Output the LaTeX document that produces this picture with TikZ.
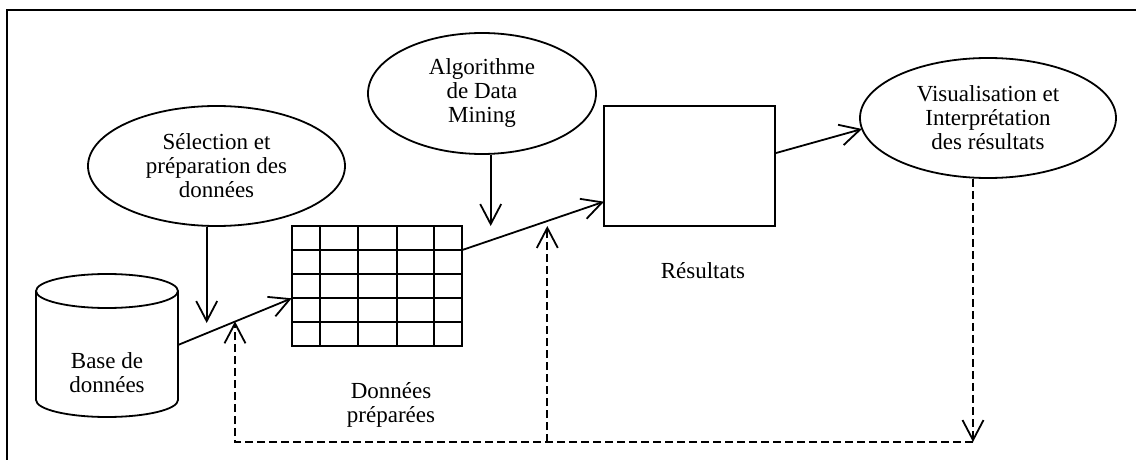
\documentclass[tikz,border=0pt]{standalone}
\usepackage{fontspec}
\setmainfont{Liberation Serif}
\usetikzlibrary{shapes.geometric,arrows.meta}
\begin{document}
\begin{tikzpicture}[x=1pt,y=-1pt,
  lw/.style={line width=1.8pt},
  ell/.style={draw, ellipse, lw, inner sep=0pt, align=center, font=\fontsize{23}{24}\selectfont},
  txt/.style={align=center, inner sep=0pt, font=\fontsize{23}{24}\selectfont},
  arr/.style={lw, -{Straight Barb[length=20pt,width=21pt]}},
  darr/.style={arr, dash pattern=on 8pt off 4pt},
]
\useasboundingbox (0,0) rectangle (1136,460);
\draw[line width=2pt] (7.3,460) -- (7.3,10) -- (1136,10);

% ellipses
\node[ell, minimum width=257pt, minimum height=120pt] (sel) at (216.5,166) {Sélection et\\préparation des\\données};
\node[ell, minimum width=228pt, minimum height=121pt] (algo) at (482,93.5) {Algorithme\\de Data\\Mining};
\node[ell, minimum width=256pt, minimum height=120pt] (vis) at (988,118) {Visualisation et\\Interprétation\\des résultats};

% database cylinder
\draw[lw, fill=white] (36,291) -- (36,400) arc[start angle=180, end angle=0, x radius=71, y radius=17] -- (178,291);
\draw[lw] (107,291) ellipse [x radius=71, y radius=17];
\node[txt] (db) at (107,373) {Base de\\données};

% grid
\node[draw, lw, minimum width=170.6pt, minimum height=120pt, inner sep=0pt] (grid) at (377,285.7) {};
\foreach \x in {320,358.3,396.7,434.3} \draw[lw] (\x,225.7) -- (\x,345.7);
\foreach \y in {250,274,298.3,322.3} \draw[lw] (291.7,\y) -- (462.3,\y);
\node[txt] (prep) at (391,405) {Données\\préparées};

% results
\node[draw, lw, minimum width=171pt, minimum height=120pt, inner sep=0pt] (res) at (689.5,166) {};
\node[txt] (reslbl) at (703,271) {Résultats};

% coordinates
\coordinate (dbout) at (178,345);
\coordinate (gin) at (291.7,298.3);
\coordinate (gout) at (462.3,250);
\coordinate (resin) at (604,201.7);
\coordinate (resout) at (775,153.3);
\coordinate (visin) at (862,129);
\coordinate (selend) at (206.7,323);
\coordinate (algoend) at (490.7,226);
\coordinate (fb) at (973,442);
\coordinate (fl) at (235,442);
\coordinate (fu) at (235,321.4);
\coordinate (fm) at (547.3,442);
\coordinate (fmu) at (547.3,226);

% connectors
\draw[arr] (dbout) -- (gin);
\draw[arr] (gout) -- (resin);
\draw[arr] (resout) -- (visin);
\draw[arr] (sel.south -| selend) -- (selend);
\draw[arr] (algo.south -| algoend) -- (algoend);
\draw[darr] (vis.south -| fb) -- (fb);
\draw[darr] (fb) -- (fl) -- (fu);
\draw[darr] (fm) -- (fmu);
\end{tikzpicture}
\end{document}
